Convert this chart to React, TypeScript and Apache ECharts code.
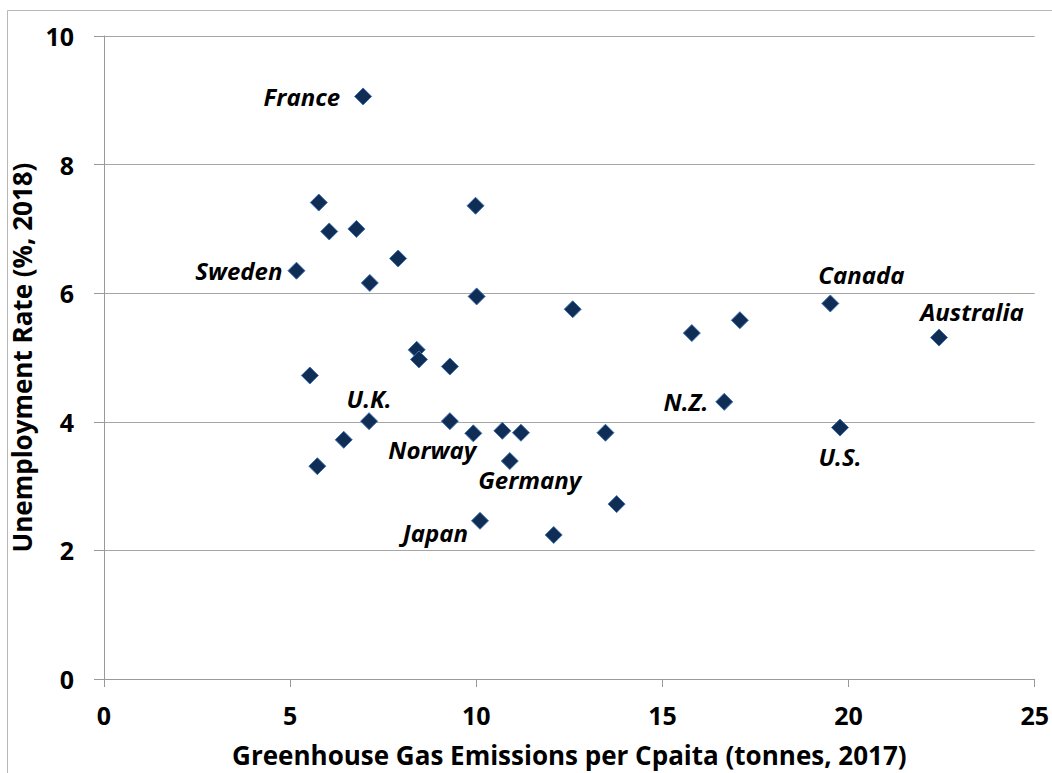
import React, { useEffect, useRef } from "react";
import * as echarts from "echarts";

const labels: string[] = [
  "France", "", "", "", "", "", "Sweden", "", "", "", "", "", "Canada", "Australia",
  "", "", "", "", "N.Z.", "U.K.", "", "Norway", "", "", "", "U.S.", "", "",
  "Germany", "", "Japan", "",
];
const emissions: number[] = [
  6.96, 5.77, 6.05, 6.78, 9.98, 7.90, 5.17, 7.14, 10.01, 12.59, 15.79, 17.08, 19.51, 22.43,
  8.40, 8.46, 9.29, 5.53, 16.66, 7.12, 9.29, 9.92, 10.70, 11.20, 13.47, 19.77, 6.44, 5.73,
  10.90, 13.77, 10.10, 12.08,
];
const unemployment: number[] = [
  9.06, 7.41, 6.96, 7.00, 7.36, 6.54, 6.35, 6.16, 5.95, 5.75, 5.38, 5.58, 5.84, 5.31,
  5.12, 4.97, 4.86, 4.72, 4.31, 4.01, 4.01, 3.82, 3.86, 3.83, 3.83, 3.91, 3.72, 3.31,
  3.39, 2.72, 2.46, 2.24,
];
const xTicks = { min: 0, max: 25, interval: 5 };
const yTicks = { min: 0, max: 10, interval: 2 };
const xTitle = "Greenhouse Gas Emissions per Cpaita (tonnes, 2017)";
const yTitle = "Unemployment Rate (%, 2018)";

const labelPlacement: Record<string, any> = {
  France: { position: "left", distance: 14 },
  Sweden: { position: "left", distance: 5 },
  Canada: { position: "top", distance: 8, offset: [31, 0] },
  Australia: { position: "top", distance: 5, offset: [33, 0] },
  "N.Z.": { position: "left", distance: 7 },
  "U.K.": { position: "top", distance: 2 },
  Norway: { position: "bottom", distance: -5, offset: [-41, 0] },
  Germany: { position: "bottom", distance: -3, offset: [20, 0] },
  Japan: { position: "left", distance: 3, offset: [0, 12] },
  "U.S.": { position: "bottom", distance: 8 },
};

export default function App() {
  const ref = useRef<HTMLDivElement>(null);
  useEffect(() => {
    if (!ref.current) return;
    const chart = echarts.init(ref.current, undefined, { renderer: "svg" });
    const font = "'Open Sans', Lato, sans-serif";
    const data = emissions.map((x, i) => {
      const name = labels[i];
      const item: any = { value: [x, unemployment[i]], name };
      if (name) {
        item.label = {
          show: true,
          formatter: name,
          fontFamily: font,
          fontSize: 24,
          fontWeight: "bold",
          fontStyle: "italic",
          color: "#000",
          ...labelPlacement[name],
        };
      }
      return item;
    });
    chart.setOption({
      animation: false,
      backgroundColor: "#fff",
      graphic: [
        {
          type: "rect",
          shape: { x: 7.5, y: 10.5, width: 1100, height: 800 },
          style: { fill: "none", stroke: "#b8b8b8", lineWidth: 1 },
          silent: true,
        },
      ],
      grid: { left: 104, right: 17, top: 36, bottom: 90, containLabel: false },
      xAxis: {
        type: "value",
        ...xTicks,
        name: xTitle,
        nameLocation: "middle",
        nameGap: 63,
        nameTextStyle: { fontFamily: font, fontSize: 26, fontWeight: "bold", color: "#000" },
        axisLine: { show: true, lineStyle: { color: "#999", width: 1 } },
        axisTick: { show: true, length: 8, lineStyle: { color: "#999" } },
        axisLabel: { fontFamily: font, fontSize: 25, fontWeight: "bold", color: "#000", margin: 23 },
        splitLine: { show: false },
      },
      yAxis: {
        type: "value",
        ...yTicks,
        name: yTitle,
        nameLocation: "middle",
        nameGap: 56,
        nameTextStyle: { fontFamily: font, fontSize: 26, fontWeight: "bold", color: "#000" },
        axisLine: { show: true, lineStyle: { color: "#999", width: 1 } },
        axisTick: { show: true, length: 10, lineStyle: { color: "#999" } },
        axisLabel: { fontFamily: font, fontSize: 25, fontWeight: "bold", color: "#000", margin: 30 },
        splitLine: { show: true, lineStyle: { color: "#a6a6a6", width: 1 } },
      },
      series: [
        {
          type: "scatter",
          symbol: "diamond",
          symbolSize: 17,
          itemStyle: { color: "#0f2d55", borderColor: "#3d6fae", borderWidth: 1, opacity: 1 },
          data,
        },
      ],
    });
    return () => chart.dispose();
  }, []);
  return (
    <div
      ref={ref}
      style={{ position: "fixed", left: 0, top: 0, width: 1052, height: 773 }}
    />
  );
}
